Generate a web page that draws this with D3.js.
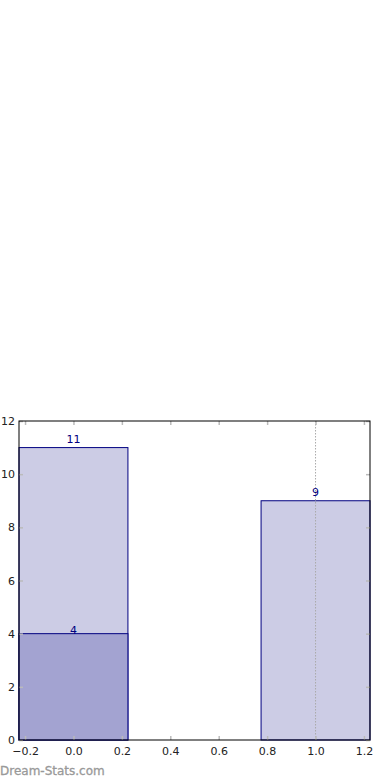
<!DOCTYPE html>
<html>
<head>
<meta charset="utf-8">
<script src="https://cdn.jsdelivr.net/npm/d3@7"></script>
<style>
  body { margin: 0; background: #fff; }
  svg { display: block; font-family: "DejaVu Sans", sans-serif; }
</style>
</head>
<body>
<svg id="chart" width="390" height="780"></svg>
<script>
// data
const categories = [0, 1];
const totalValues = [11, 9];
const subsetValues = [4, null];
const refLines = [1];
const xTicks = [-0.2, 0.0, 0.2, 0.4, 0.6, 0.8, 1.0, 1.2];
const yTicks = [0, 2, 4, 6, 8, 10, 12];

const svg = d3.select("#chart");
const LEFT = 19, RIGHT = 370, TOP = 421, BOTTOM = 740;
const BAR_W = 0.45;
const TICK_COLOR = "#bbbbbb";

const xScale = d3.scaleLinear().domain([-0.225, 1.225]).range([LEFT, RIGHT]);
const yScale = d3.scaleLinear().domain([0, 12]).range([BOTTOM, TOP]);

// bars (light = total, dark = subset)
svg.selectAll("rect.total")
   .data(categories)
   .enter()
   .append("rect")
   .attr("x", (d) => xScale(d - BAR_W / 2))
   .attr("y", (d, i) => yScale(totalValues[i]))
   .attr("width", (d) => xScale(d + BAR_W / 2) - xScale(d - BAR_W / 2))
   .attr("height", (d, i) => yScale(0) - yScale(totalValues[i]))
   .attr("fill", "#ccccE5")
   .attr("stroke", "#000080")
   .attr("stroke-width", 1);

const subs = categories.map((c, i) => ({c: c, v: subsetValues[i]})).filter(d => d.v != null);

svg.selectAll("rect.subset")
   .data(subs)
   .enter()
   .append("rect")
   .attr("x", (d) => xScale(d.c - BAR_W / 2))
   .attr("y", (d) => yScale(d.v))
   .attr("width", (d) => xScale(d.c + BAR_W / 2) - xScale(d.c - BAR_W / 2))
   .attr("height", (d) => yScale(0) - yScale(d.v))
   .attr("fill", "#a3a3d1")
   .attr("stroke", "#000080")
   .attr("stroke-width", 1);

// dotted reference line
svg.selectAll("line.ref")
   .data(refLines)
   .enter()
   .append("line")
   .attr("x1", (d) => xScale(d))
   .attr("x2", (d) => xScale(d))
   .attr("y1", TOP)
   .attr("y2", BOTTOM)
   .attr("stroke", "#aaaaaa")
   .attr("stroke-width", 1)
   .attr("stroke-dasharray", "1.5,1.5");

// value labels
svg.selectAll("text.total")
   .data(categories)
   .enter()
   .append("text")
   .attr("x", (d) => xScale(d))
   .attr("y", (d, i) => yScale(totalValues[i]) - 5)
   .attr("text-anchor", "middle")
   .attr("font-size", 11)
   .attr("fill", "#000080")
   .text((d, i) => totalValues[i]);

svg.selectAll("text.subset")
   .data(subs)
   .enter()
   .append("text")
   .attr("x", (d) => xScale(d.c))
   .attr("y", (d) => yScale(d.v))
   .attr("text-anchor", "middle")
   .attr("font-size", 11)
   .attr("fill", "#000080")
   .text((d) => d.v);

// axes with inward ticks
const xAxis = d3.axisBottom(xScale).tickValues(xTicks).tickSizeInner(-4).tickSizeOuter(0)
                .tickPadding(7).tickFormat(d3.format(".1f"));
const yAxis = d3.axisLeft(yScale).tickValues(yTicks).tickSizeInner(-4).tickSizeOuter(0)
                .tickPadding(4).tickFormat(d3.format("d"));
const xTop = d3.axisTop(xScale).tickValues(xTicks).tickSizeInner(-4).tickSizeOuter(0).tickFormat("");
const yRight = d3.axisRight(yScale).tickValues(yTicks).tickSizeInner(-4).tickSizeOuter(0).tickFormat("");

function styleAxis(g) {
  g.select(".domain").remove();
  g.selectAll(".tick line").attr("stroke", TICK_COLOR).attr("stroke-width", 1.5);
  g.selectAll(".tick text").attr("fill", "#222").attr("font-size", 11)
   .attr("font-family", "DejaVu Sans, sans-serif");
}

svg.append("g").attr("transform", `translate(0, ${BOTTOM})`).call(xAxis).call(styleAxis);
svg.append("g").attr("transform", `translate(${LEFT}, 0)`).call(yAxis).call(styleAxis);
svg.append("g").attr("transform", `translate(0, ${TOP})`).call(xTop).call(styleAxis);
svg.append("g").attr("transform", `translate(${RIGHT}, 0)`).call(yRight).call(styleAxis);

// frame
svg.append("rect")
   .attr("x", LEFT)
   .attr("y", TOP)
   .attr("width", RIGHT - LEFT)
   .attr("height", BOTTOM - TOP)
   .attr("fill", "none")
   .attr("stroke", "#000")
   .attr("stroke-width", 1);

// watermark
svg.append("text")
   .attr("x", 0)
   .attr("y", 775)
   .attr("font-size", 12)
   .attr("fill", "#999999")
   .attr("stroke", "#999999")
   .attr("stroke-width", 0.3)
   .text("Dream-Stats.com");
</script>
</body>
</html>
